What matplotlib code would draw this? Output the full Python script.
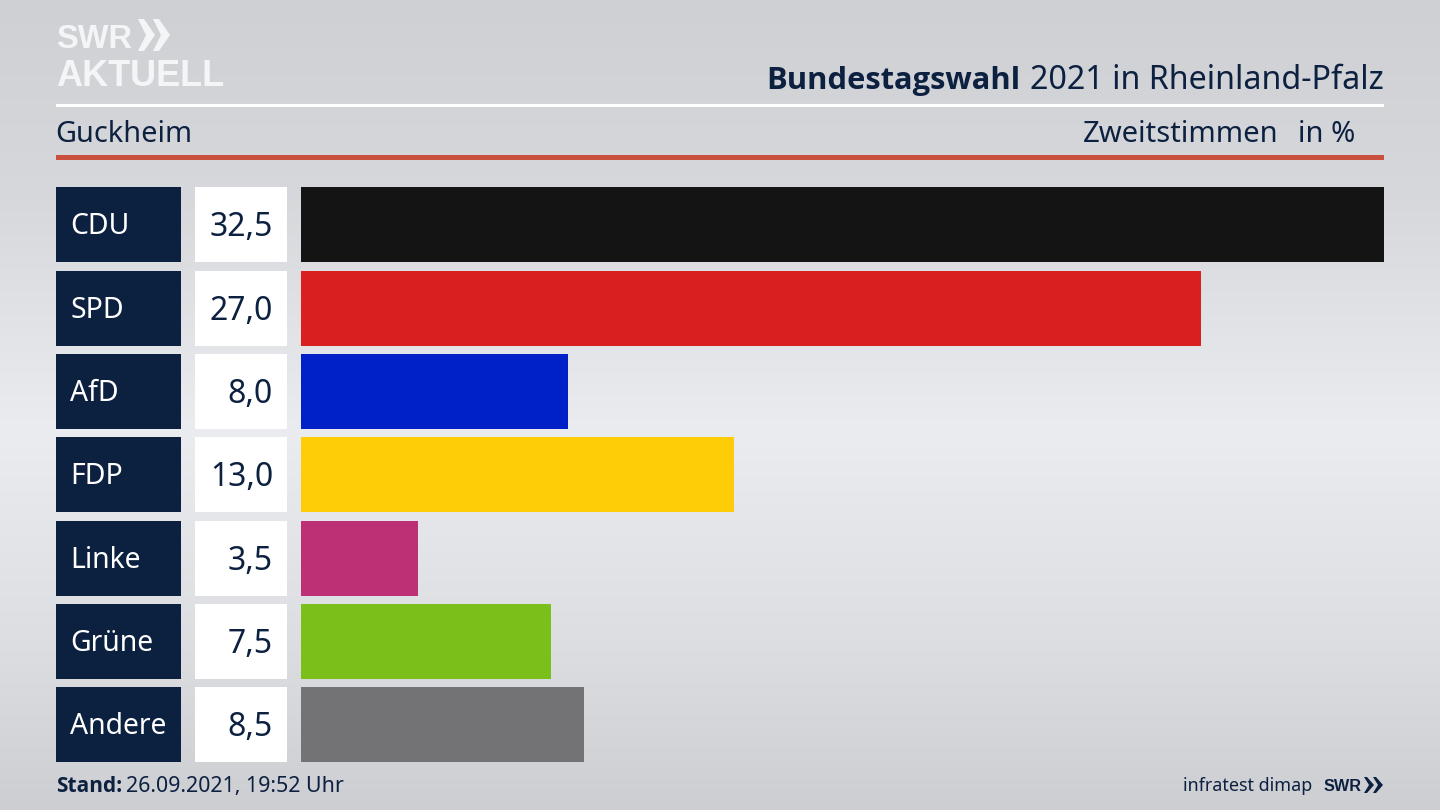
import matplotlib
matplotlib.use("Agg")
import matplotlib.pyplot as plt
import numpy as np
from matplotlib.patches import Rectangle, Polygon

plt.rcParams['font.family'] = ['Noto Sans', 'DejaVu Sans']

parties = ["CDU", "SPD", "AfD", "FDP", "Linke", "Grüne", "Andere"]
values = [32.5, 27.0, 8.0, 13.0, 3.5, 7.5, 8.5]
colors = ["#141414", "#d9201f", "#0021c8", "#ffcc08", "#be3075", "#7abf1a", "#737375"]
value_labels = ["32,5", "27,0", "8,0", "13,0", "3,5", "7,5", "8,5"]

NAVY = "#0c2040"
LOGO = "#f4f5f7"
LOGO_FONT = ['Liberation Sans']
BOLD = ['Open Sans']
W, H = 1440, 810

fig = plt.figure(figsize=(W / 100, H / 100), dpi=100)

# hintergrund und alles ausser den balken, in pixeln
bg = fig.add_axes([0, 0, 1, 1])
bg.set_xlim(0, W)
bg.set_ylim(H, 0)
bg.axis('off')
stops_y = [0, 200, 430, 640, 810]
stops_c = [207, 215, 235, 221, 205]
grad = np.interp(np.arange(H), stops_y, stops_c) / 255
img = np.stack([grad, grad + 0.004, grad + 0.02], axis=1).clip(0, 1)[:, None, :]
bg.imshow(img, extent=[0, W, H, 0], aspect='auto', zorder=0)

# logo
bg.text(56, 48, "SWR", color=LOGO, fontsize=23.5, fontweight='bold', family=LOGO_FONT, va='baseline', ha='left')
for x0 in [138, 153]:
    bg.add_patch(Polygon([(x0, 19), (x0 + 6, 19), (x0 + 17, 35), (x0 + 6, 51), (x0, 51), (x0 + 8, 35)],
                         color=LOGO, lw=0))
bg.text(56, 86, "AKTUELL", color=LOGO, fontsize=26, fontweight='bold', family=LOGO_FONT, va='baseline', ha='left')

# kopf
bg.add_patch(Rectangle((56, 104), 1328, 3, color="white", lw=0))
bg.add_patch(Rectangle((56, 155), 1328, 5, color="#c9503c", lw=0))
bg.text(1384, 89, "2021 in Rheinland-Pfalz", color=NAVY, fontsize=23.2, va='baseline', ha='right')
bg.text(1020, 89, "Bundestagswahl", color=NAVY, fontsize=22.2, fontweight='bold', family=BOLD, va='baseline', ha='right')
bg.text(55, 142, "Guckheim", color=NAVY, fontsize=20.8, va='baseline', ha='left')
bg.text(1278, 142, "Zweitstimmen", color=NAVY, fontsize=21, va='baseline', ha='right')
bg.text(1355, 142, "in %", color=NAVY, fontsize=21, va='baseline', ha='right')

# label- und wertkaesten
TOP, STEP, BAR_H = 187.4, 83.3, 75
for i, (party, label) in enumerate(zip(parties, value_labels)):
    y = TOP + i * STEP
    bg.add_patch(Rectangle((56, y), 125, BAR_H, color=NAVY, lw=0))
    bg.add_patch(Rectangle((195, y), 92, BAR_H, color="white", lw=0))
    bg.text(70, y + 47, party, color="white", fontsize=20.4, va='baseline', ha='left')
    bg.text(273, y + 49, label, color=NAVY, fontsize=23, va='baseline', ha='right')

# fuss
bg.text(56, 792, "Stand:", color=NAVY, fontsize=15, fontweight='bold', family=BOLD, va='baseline', ha='left')
bg.text(126, 792, "26.09.2021, 19:52 Uhr", color=NAVY, fontsize=15.4, va='baseline', ha='left')
bg.text(1312, 791, "infratest dimap", color=NAVY, fontsize=12.9, va='baseline', ha='right')
bg.text(1324, 791, "SWR", color=NAVY, fontsize=11.7, fontweight='bold', family=LOGO_FONT, va='baseline', ha='left')
for x0 in [1364, 1373]:
    bg.add_patch(Polygon([(x0, 777), (x0 + 3, 777), (x0 + 10, 785), (x0 + 3, 793), (x0, 793), (x0 + 5, 785)],
                         color=NAVY, lw=0))

# balken
ax = fig.add_axes([301 / W, 0, (1384 - 301) / W, 1], facecolor='none')
ax.set_xlim(0, 32.5)
ax.set_ylim(H, 0)
ax.axis('off')
ax.barh([TOP + BAR_H / 2 + i * STEP for i in range(len(values))], values, height=BAR_H, color=colors)

fig.savefig("out.png", dpi=100)
